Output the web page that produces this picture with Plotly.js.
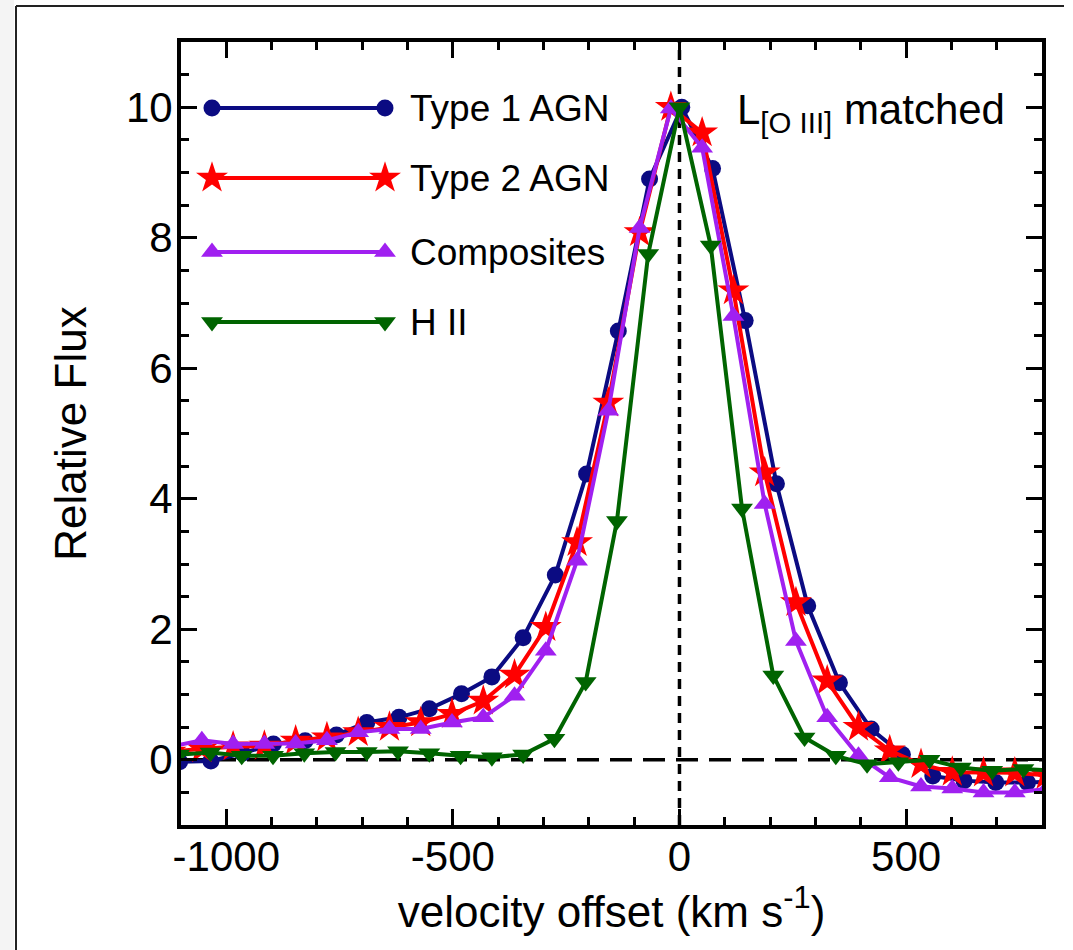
<!DOCTYPE html>
<html>
<head>
<meta charset="utf-8">
<script src="https://cdn.plot.ly/plotly-3.0.1.min.js"></script>
<style>html,body{margin:0;padding:0;background:#fff;}#chart{width:1073px;height:950px;}</style>
</head>
<body>
<div id="chart"></div>
<script>
// ---- data ----
const seriesNames = ['Type 1 AGN', 'Type 2 AGN', 'Composites', 'H II'];

const velType1 = [-1103,-1034,-964,-896,-826,-757,-690,-619,-552,-481,-414,-345,-274,-205,-135,-66,5,73,145,214,283,353,423,492,559,628,698,768,837];
const fluxType1 = [-0.03,-0.02,0.10,0.24,0.29,0.38,0.57,0.65,0.78,1.01,1.27,1.87,2.83,4.38,6.57,8.90,10.0,9.06,6.73,4.23,2.36,1.18,0.47,0.08,-0.25,-0.32,-0.35,-0.35,-0.33];

const velType2 = [-1123,-1054,-985,-916,-847,-778,-709,-640,-571,-502,-433,-364,-295,-226,-157,-88,-19,50,119,188,257,326,395,464,533,602,671,740,809];
const fluxType2 = [0.12,0.17,0.20,0.21,0.29,0.34,0.42,0.50,0.57,0.70,0.90,1.30,2.03,3.33,5.47,8.08,10.0,9.61,7.19,4.40,2.41,1.21,0.50,0.14,-0.07,-0.19,-0.20,-0.20,-0.24];

const velComp = [-1123,-1054,-985,-916,-847,-778,-709,-640,-571,-502,-433,-364,-295,-226,-157,-88,-19,50,119,188,257,326,395,464,533,602,671,740,809];
const fluxComp = [0.20,0.30,0.24,0.24,0.25,0.30,0.42,0.47,0.47,0.57,0.65,0.98,1.67,3.05,5.35,8.15,9.98,9.38,6.80,3.92,1.82,0.65,0.06,-0.27,-0.41,-0.44,-0.50,-0.50,-0.45];

const velHII = [-1104,-1035,-966,-897,-828,-759,-690,-621,-552,-483,-414,-345,-276,-207,-138,-69,0,69,138,207,276,345,414,483,552,621,690,759,828];
const fluxHII = [0.08,0.11,0.06,0.06,0.10,0.12,0.12,0.13,0.10,0.06,0.04,0.08,0.32,1.19,3.66,7.75,10.0,7.88,3.85,1.29,0.34,0.06,-0.07,-0.04,0.00,-0.12,-0.17,-0.14,-0.17];

const xTickVals = [-1000, -500, 0, 500];
const xTickText = ['-1000', '-500', '0', '500'];
const yTickVals = [0, 2, 4, 6, 8, 10];
const yTickText = ['0', '2', '4', '6', '8', '10'];

// ---- styles ----
const W = 1073, H = 950;
const M = {l: 181, r: 31, t: 42, b: 125};
const PW = W - M.l - M.r, PH = H - M.t - M.b;
const FONT = 'Liberation Sans, Arial, Helvetica, sans-serif';
const colors = ['#0b0b82', '#ff0000', '#a020f0', '#006400'];
const symbols = ['circle', 'star', 'triangle-up', 'triangle-down'];
const msizes = [17, 24, 19, 19];
const LW = 4;
const px2fx = p => (p - M.l) / PW;
const py2fy = p => 1 - (p - M.t) / PH;

const xs = [velType1, velType2, velComp, velHII];
const ys = [fluxType1, fluxType2, fluxComp, fluxHII];

const traces = xs.map((x, i) => ({
  type: 'scatter', mode: 'lines+markers', x: x, y: ys[i], name: seriesNames[i],
  showlegend: false,
  line: {color: colors[i], width: LW},
  marker: {color: colors[i], symbol: symbols[i], size: msizes[i], line: {width: 0}}
}));

// custom legend (line with a marker at both ends), placed in an overlay axis of fractions
const legRowPx = [108, 178, 252, 322];
const legX0 = 212, legX1 = 385, legTextX = 408;
seriesNames.forEach((n, i) => {
  traces.push({
    type: 'scatter', mode: 'lines+markers', xaxis: 'x2', yaxis: 'y2', showlegend: false, hoverinfo: 'skip',
    x: [px2fx(legX0), px2fx(legX1)], y: [py2fy(legRowPx[i]), py2fy(legRowPx[i])],
    line: {color: colors[i], width: LW},
    marker: {color: colors[i], symbol: symbols[i], size: msizes[i], line: {width: 0}}
  });
});

const annotations = seriesNames.map((n, i) => ({
  xref: 'paper', yref: 'paper', x: px2fx(legTextX), y: py2fy(legRowPx[i]),
  xanchor: 'left', yanchor: 'middle', showarrow: false, text: n,
  font: {family: FONT, size: 37, color: '#000'}
}));
annotations.push({
  xref: 'paper', yref: 'paper', x: px2fx(735), y: py2fy(112),
  xanchor: 'left', yanchor: 'middle', showarrow: false,
  text: 'L<sub>[O III]</sub> matched',
  font: {family: FONT, size: 42, color: '#000'}
});

const shapes = [
  {type: 'rect', xref: 'paper', yref: 'paper', x0: px2fx(0), x1: px2fx(14), y0: py2fy(950), y1: py2fy(0),
   fillcolor: '#f4f4f4', line: {width: 0}, layer: 'below'},
  {type: 'line', xref: 'paper', yref: 'paper', x0: px2fx(16), x1: px2fx(16), y0: py2fy(950), y1: py2fy(6),
   line: {color: '#222', width: 2}},
  {type: 'line', xref: 'paper', yref: 'paper', x0: px2fx(16), x1: px2fx(1064), y0: py2fy(6), y1: py2fy(6),
   line: {color: '#222', width: 2}},
  {type: 'line', xref: 'paper', yref: 'y', x0: 0, x1: 1, y0: 0, y1: 0,
   line: {color: '#000', width: 3.5, dash: '22px,11px'}, layer: 'below'},
  {type: 'line', xref: 'x', yref: 'paper', x0: 0, x1: 0, y0: 0, y1: 1,
   line: {color: '#000', width: 3.5, dash: '10px,7px'}, layer: 'below'}
];

const axisCommon = {
  showline: true, linewidth: 4, linecolor: '#000', mirror: 'ticks',
  ticks: 'inside', ticklen: 16, tickwidth: 3, tickcolor: '#000',
  showgrid: false, zeroline: false, tickmode: 'array',
  tickfont: {family: FONT, size: 42, color: '#000'}
};

const layout = {
  width: W, height: H, margin: M,
  paper_bgcolor: '#fff', plot_bgcolor: '#fff',
  showlegend: false,
  xaxis: Object.assign({}, axisCommon, {
    range: [-1100, 800], tickvals: xTickVals, ticktext: xTickText,
    minor: {ticks: 'inside', ticklen: 8, tickwidth: 3, tickcolor: '#000', tickmode: 'linear', tick0: 0, dtick: 100, showgrid: false},
    ticklabelstandoff: -8,
    title: {text: 'velocity offset (km s<sup>-1</sup>)', font: {family: FONT, size: 44, color: '#000'}, standoff: 0}
  }),
  yaxis: Object.assign({}, axisCommon, {
    range: [-1, 11], tickvals: yTickVals, ticktext: yTickText,
    minor: {ticks: 'inside', ticklen: 8, tickwidth: 3, tickcolor: '#000', tickmode: 'linear', tick0: 0, dtick: 0.5, showgrid: false},
    ticklabelstandoff: -4,
    title: {text: 'Relative Flux', font: {family: FONT, size: 44, color: '#000'}, standoff: 26}
  }),
  xaxis2: {overlaying: 'x', anchor: 'y2', range: [0, 1], visible: false, fixedrange: true},
  yaxis2: {overlaying: 'y', anchor: 'x2', range: [0, 1], visible: false, fixedrange: true},
  annotations: annotations,
  shapes: shapes
};

Plotly.newPlot('chart', traces, layout, {displayModeBar: false, staticPlot: true});
</script>
</body>
</html>
